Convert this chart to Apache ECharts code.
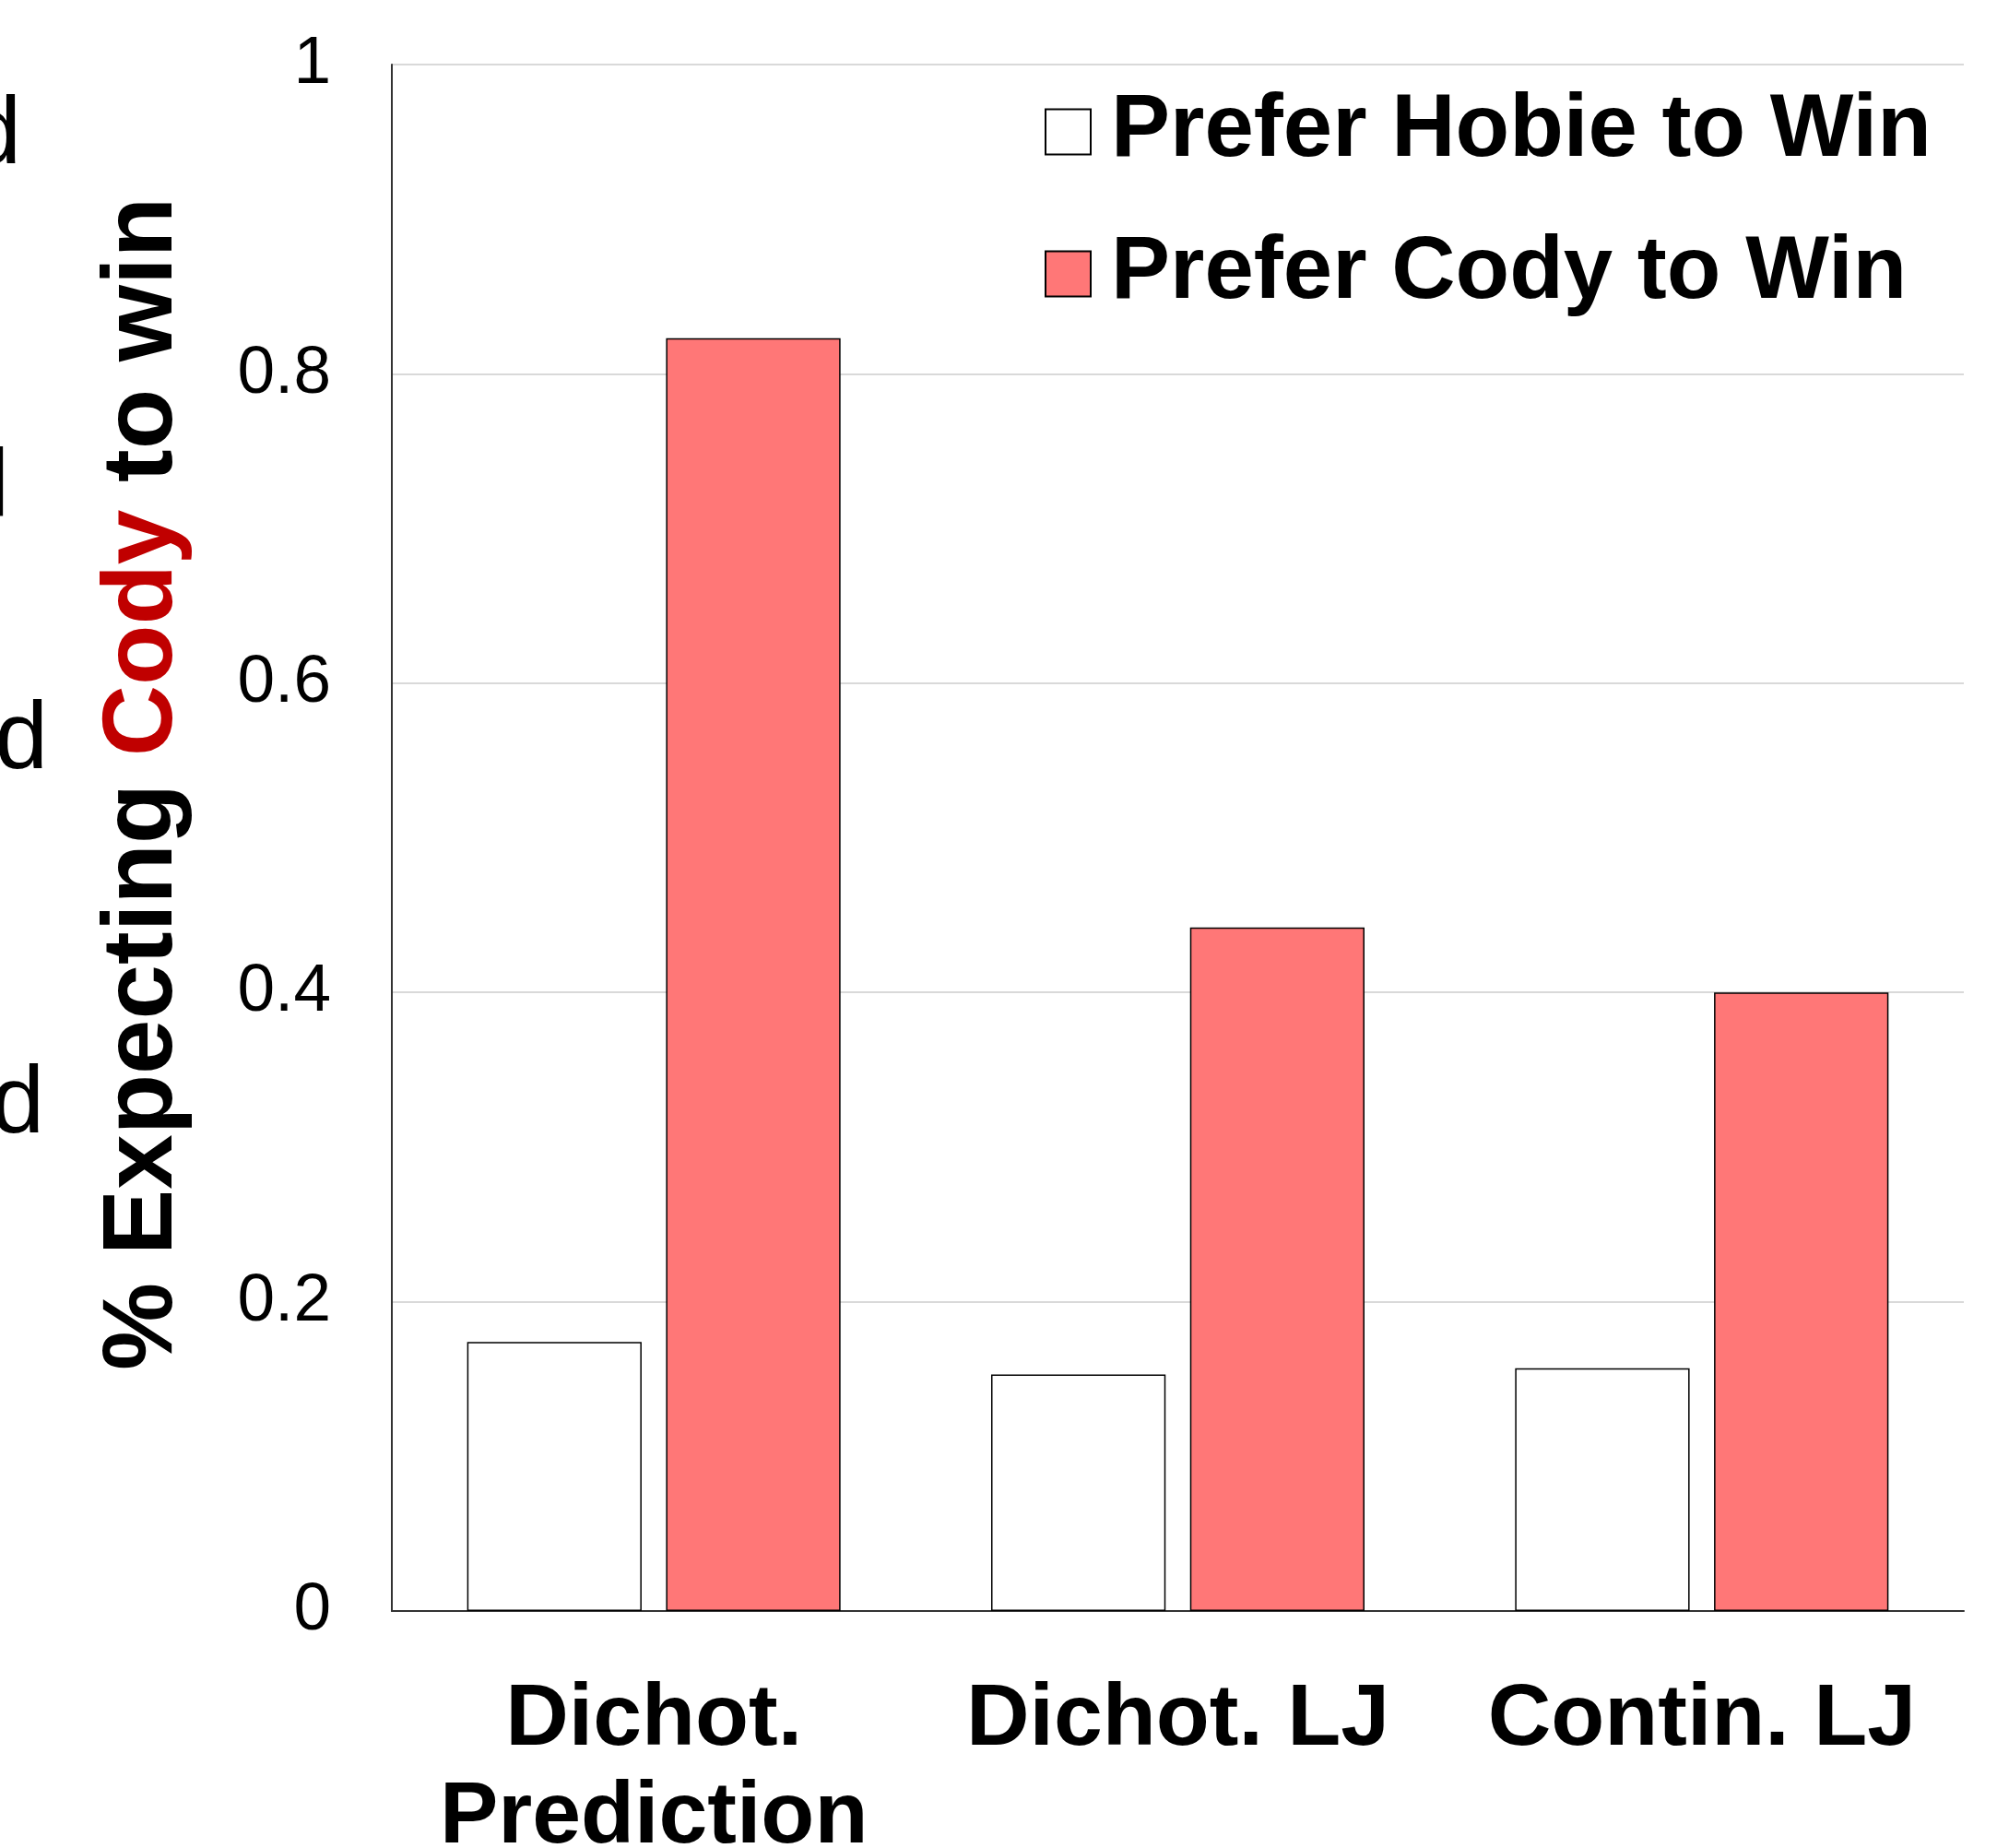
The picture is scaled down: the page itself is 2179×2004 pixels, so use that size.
<!DOCTYPE html>
<html>
<head>
<meta charset="utf-8">
<script src="https://cdn.jsdelivr.net/npm/echarts@6/dist/echarts.min.js"></script>
<style>
html,body{margin:0;padding:0;background:#fff;}
#chart{width:2179px;height:2004px;}
</style>
</head>
<body>
<div id="chart"></div>
<script>
var categories = ['Dichot.\nPrediction', 'Dichot. LJ', 'Contin. LJ'];
var seriesNames = ['Prefer Hobie to Win', 'Prefer Cody to Win'];
var hobieValues = [0.174, 0.153, 0.157];
var codyValues = [0.823, 0.442, 0.400];
var yTicks = [0, 0.2, 0.4, 0.6, 0.8, 1];
var edgeFragments = ['d', 'l', 'd', 'd'];

var FONT = '"Liberation Sans", Arial, Helvetica, sans-serif';
var chart = echarts.init(document.getElementById('chart'));

var fragPos = [[23, 148], [10, 530], [52, 804], [48, 1199]];
var graphics = edgeFragments.map(function (t, i) {
  return {
    type: 'text', x: fragPos[i][0], y: fragPos[i][1],
    style: { text: t, fill: '#000', fontSize: 104, fontFamily: FONT, align: 'right', verticalAlign: 'middle' }
  };
});
graphics.push({
  type: 'text', x: 156, y: 850, rotation: Math.PI / 2,
  style: {
    text: '{a|% Expecting }{b|Cody}{a| to win}',
    align: 'center', verticalAlign: 'middle',
    fontSize: 107, fontWeight: 'bold', fontFamily: FONT, fill: '#000',
    rich: {
      a: { fill: '#000', fontSize: 107, fontWeight: 'bold', fontFamily: FONT },
      b: { fill: '#C00000', fontSize: 107, fontWeight: 'bold', fontFamily: FONT }
    }
  }
});

chart.setOption({
  animation: false,
  backgroundColor: '#fff',
  grid: { left: 425, right: 49, top: 70, bottom: 257, containLabel: false, outerBoundsMode: 'none' },
  legend: {
    orient: 'vertical', left: 1128, top: 90,
    itemWidth: 49, itemHeight: 49, itemGap: 58,
    icon: 'rect',
    data: seriesNames,
    textStyle: { fontSize: 96, fontWeight: 'bold', fontFamily: FONT, color: '#000', lineHeight: 96, padding: [0, 0, 0, 17] }
  },
  xAxis: {
    type: 'category', data: categories,
    axisLine: { show: true, lineStyle: { color: '#333', width: 2 } },
    axisTick: { show: false },
    axisLabel: { fontSize: 95, fontWeight: 'bold', fontFamily: FONT, color: '#000', lineHeight: 106, margin: 66, interval: 0 }
  },
  yAxis: {
    type: 'value', min: yTicks[0], max: yTicks[yTicks.length - 1], interval: yTicks[1] - yTicks[0],
    axisLine: { show: true, lineStyle: { color: '#333', width: 2 } },
    axisTick: { show: false },
    splitLine: { show: true, lineStyle: { color: '#d9d9d9', width: 2 } },
    axisLabel: { fontSize: 73, fontFamily: FONT, color: '#000', margin: 66 }
  },
  series: [
    {
      name: seriesNames[0], type: 'bar', data: hobieValues,
      barWidth: '33.3%', barGap: '14%',
      itemStyle: { color: '#ffffff', borderColor: '#000', borderWidth: 1.5 }
    },
    {
      name: seriesNames[1], type: 'bar', data: codyValues,
      barWidth: '33.3%', barGap: '14%',
      itemStyle: { color: '#FF7777', borderColor: '#000', borderWidth: 1.5 }
    }
  ],
  graphic: graphics
});
</script>
</body>
</html>
